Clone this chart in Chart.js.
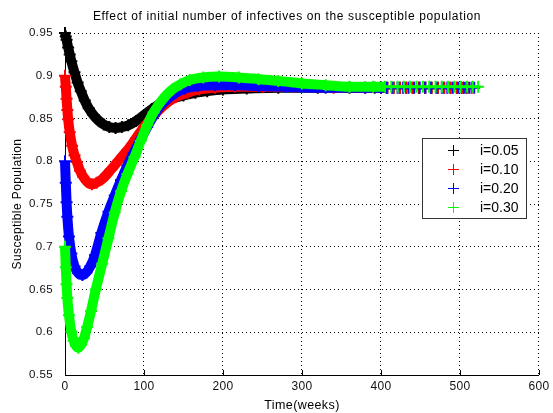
<!DOCTYPE html>
<html><head><meta charset="utf-8">
<script src="https://cdn.jsdelivr.net/npm/chart.js@4"></script>
<style>html,body{margin:0;padding:0;background:#fff;}canvas{display:block;}</style>
</head><body>
<canvas id="c" width="553" height="413"></canvas>
<script>
const chartTitle = 'Effect of initial number of infectives on the susceptible population';
const xTitle = 'Time(weeks)';
const yTitle = 'Susceptible Population';
const seriesLabels = ['i=0.05', 'i=0.10', 'i=0.20', 'i=0.30'];
const seriesColors = ['#000000', '#ff0000', '#0000ff', '#00ff00'];
const xTicks = [0, 100, 200, 300, 400, 500, 600];
const yTicks = [0.55, 0.6, 0.65, 0.7, 0.75, 0.8, 0.85, 0.9, 0.95];

// i = 0.05
const t005 = [0,1,2,4,6,8,12,16,20,25,30,36,42,49,56,64,72,80,90,100,110,120,135,150,165,180,200,230,270,320,360,392,400,408,416,424,432,440,448,456,464,472,480,488,496,502,508];
const s005 = [0.950,0.946,0.942,0.933,0.925,0.917,0.904,0.892,0.882,0.871,0.862,0.854,0.848,0.843,0.840,0.839,0.840,0.842,0.847,0.854,0.861,0.867,0.873,0.877,0.880,0.882,0.884,0.885,0.886,0.886,0.886,0.886,0.886,0.886,0.886,0.886,0.886,0.886,0.886,0.886,0.886,0.886,0.886,0.886,0.886,0.886,0.886];
// i = 0.10
const t010 = [0,1,2,3,4,6,9,12,15,19,23,28,34,40,47,58,68,79,90,100,110,120,130,140,155,170,190,215,250,290,340,380,400,408,416,424,432,440,448,456,464,472,480,488,496,504,510,515];
const s010 = [0.900,0.887,0.873,0.860,0.849,0.834,0.818,0.807,0.799,0.789,0.782,0.776,0.773,0.775,0.779,0.790,0.801,0.813,0.827,0.840,0.851,0.861,0.869,0.875,0.880,0.884,0.886,0.887,0.887,0.887,0.886,0.886,0.886,0.886,0.886,0.886,0.886,0.886,0.886,0.886,0.886,0.886,0.886,0.886,0.886,0.886,0.886,0.886];
// i = 0.20
const t020 = [0,1,2,3,5,8,12,17,22,27,32,38,46,55,63,71,79,87,96,104,112,120,130,140,152,168,190,215,245,280,330,380,400,407,414,421,428,435,442,449,456,463,470,477,484,491,498,505,512,518];
const s020 = [0.800,0.775,0.752,0.735,0.712,0.692,0.677,0.669,0.667,0.670,0.677,0.690,0.716,0.741,0.760,0.778,0.795,0.810,0.826,0.840,0.853,0.864,0.873,0.880,0.885,0.888,0.889,0.889,0.888,0.887,0.886,0.886,0.886,0.886,0.886,0.886,0.886,0.886,0.886,0.886,0.886,0.886,0.886,0.886,0.886,0.886,0.886,0.886,0.886,0.886];
// i = 0.30
const t030 = [0,1,2,3,5,8,11,14,17,20,24,28,33,39,47,55,63,71,79,88,96,104,112,120,128,136,146,158,175,195,220,245,270,300,330,360,390,405,413,421,429,437,445,453,461,469,477,485,493,501,509,516,523];
const s030 = [0.700,0.676,0.656,0.640,0.620,0.601,0.590,0.584,0.582,0.585,0.593,0.606,0.625,0.650,0.680,0.710,0.740,0.765,0.785,0.805,0.824,0.842,0.857,0.868,0.877,0.884,0.890,0.895,0.898,0.899,0.898,0.896,0.894,0.891,0.889,0.887,0.887,0.887,0.887,0.887,0.887,0.887,0.887,0.887,0.887,0.887,0.887,0.887,0.887,0.887,0.887,0.887,0.887];

const seriesT = [t005, t010, t020, t030];
const seriesS = [s005, s010, s020, s030];
const FONT = 'Liberation Sans, Arial, Helvetica, sans-serif';
const tailStart = 405;

const datasets = seriesLabels.map((lab, k) => ({
  label: lab,
  data: seriesT[k].map((x, i) => ({x: x, y: seriesS[k][i]})),
  borderColor: seriesColors[k],
  backgroundColor: seriesColors[k],
  borderWidth: 10,
  pointStyle: 'cross',
  pointRadius: 6,
  pointBorderWidth: 2,
  pointBorderColor: seriesColors[k],
  pointBackgroundColor: seriesColors[k],
  cubicInterpolationMode: 'monotone',
  showLine: true,
  fill: false,
  clip: false,
  order: 4 - k,
  segment: { borderWidth: c => (c.p0.parsed.x >= tailStart ? 3 : 10) }
}));

const spacing = {
  id: 'spacing',
  beforeDraw(chart) { try { chart.ctx.letterSpacing = '0.4px'; } catch (e) {} }
};

const titlePlugin = {
  id: 'mtitle',
  afterDraw(chart) {
    const ctx = chart.ctx;
    ctx.save();
    try { ctx.letterSpacing = '0.65px'; } catch (e) {}
    ctx.fillStyle = '#000';
    ctx.font = '12px ' + FONT;
    ctx.textAlign = 'center';
    ctx.textBaseline = 'alphabetic';
    ctx.fillText(chartTitle, 287, 20);
    ctx.restore();
  }
};

const inTicks = {
  id: 'inticks',
  beforeDatasetsDraw(chart) {
    const ctx = chart.ctx, xs = chart.scales.x, ys = chart.scales.y, a = chart.chartArea;
    ctx.save();
    ctx.strokeStyle = '#000';
    ctx.lineWidth = 1;
    ctx.beginPath();
    xs.ticks.forEach(t => { const p = Math.round(xs.getPixelForValue(t.value)) + 0.5; ctx.moveTo(p, a.bottom); ctx.lineTo(p, a.bottom - 5); });
    ys.ticks.forEach(t => { const p = Math.round(ys.getPixelForValue(t.value)) + 0.5; ctx.moveTo(a.left, p); ctx.lineTo(a.left + 5, p); });
    ctx.stroke();
    ctx.restore();
  }
};

const boxLegend = {
  id: 'boxlegend',
  afterDraw(chart) {
    const ctx = chart.ctx;
    ctx.save();
    try { ctx.letterSpacing = '0px'; } catch (e) {}
    const bx = 422.5, by = 138.5, bw = 104, bh = 80;
    ctx.fillStyle = '#fff';
    ctx.fillRect(bx, by, bw, bh);
    ctx.strokeStyle = '#333';
    ctx.lineWidth = 1;
    ctx.strokeRect(bx, by, bw, bh);
    ctx.font = '14px ' + FONT;
    ctx.textBaseline = 'middle';
    ctx.textAlign = 'left';
    seriesLabels.forEach((lab, i) => {
      const y = Math.round(150 + i * 18.9) + 0.5;
      ctx.strokeStyle = seriesColors[i];
      ctx.lineWidth = 1;
      ctx.beginPath();
      ctx.moveTo(448, y); ctx.lineTo(459, y);
      ctx.moveTo(453.5, y - 5.5); ctx.lineTo(453.5, y + 5.5);
      ctx.stroke();
      ctx.fillStyle = '#000';
      ctx.fillText(lab, 480, y + 0.5);
    });
    ctx.restore();
  }
};

new Chart(document.getElementById('c'), {
  type: 'line',
  data: { datasets: datasets },
  options: {
    responsive: false,
    animation: false,
    devicePixelRatio: 1,
    layout: { padding: { top: 33, right: 10, left: 0, bottom: 0 } },
    plugins: { legend: { display: false }, tooltip: { enabled: false }, title: { display: false } },
    scales: {
      x: {
        type: 'linear', min: 0, max: 600,
        afterFit(s) { s.height = 38; },
        afterBuildTicks(s) { s.ticks = xTicks.map(v => ({ value: v })); },
        grid: { color: '#000', lineWidth: 1, drawTicks: false },
        border: { display: true, color: '#000', width: 1, dash: [1, 3] },
        ticks: { color: '#111', font: { family: FONT, size: 12 }, padding: 4, maxRotation: 0, autoSkip: false },
        title: { display: true, text: xTitle, color: '#000', font: { family: FONT, size: 12.5 }, padding: { top: 3, bottom: 0 } }
      },
      y: {
        type: 'linear', min: 0.55, max: 0.95,
        afterFit(s) { s.width = 65; },
        afterBuildTicks(s) { s.ticks = yTicks.map(v => ({ value: v })); },
        grid: { color: '#000', lineWidth: 1, drawTicks: false },
        border: { display: true, color: '#000', width: 1, dash: [1, 3] },
        ticks: { color: '#111', font: { family: FONT, size: 11.5 }, padding: 12, autoSkip: false,
                 callback: v => String(parseFloat(Number(v).toFixed(2))) },
        title: { display: true, text: yTitle, color: '#000', font: { family: FONT, size: 12 }, padding: { top: 10, bottom: 0 } }
      }
    }
  },
  plugins: [spacing, inTicks, titlePlugin, boxLegend]
});
</script>
</body></html>
